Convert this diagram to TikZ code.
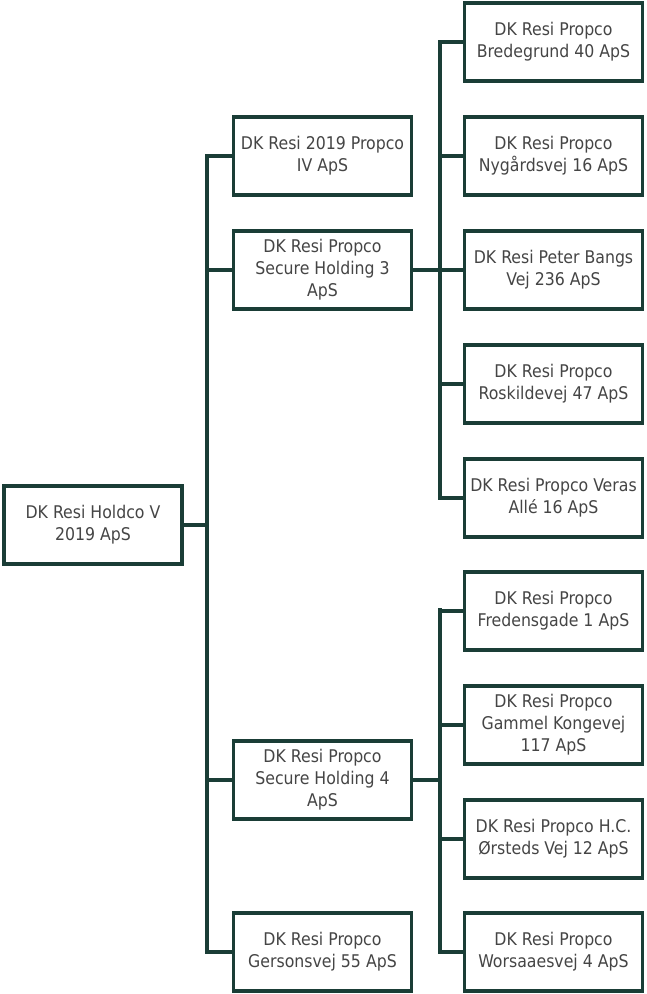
\documentclass[tikz,border=0pt]{standalone}
\usepackage{fontspec}
\setmainfont{DejaVu Sans Condensed}
\definecolor{boxline}{HTML}{1A3D36}
\definecolor{txt}{HTML}{454545}
\begin{document}
\begin{tikzpicture}[x=1pt,y=-1pt,
  org/.style={draw=boxline,line width=3.5pt,fill=white,minimum width=178pt,minimum height=78pt,
    inner sep=0pt,align=center,text=txt,font=\fontsize{17.5}{22}\selectfont,anchor=center},
  link/.style={draw=boxline,line width=3.2pt,line cap=rect}]
\useasboundingbox (0,0) rectangle (646,994);
% coordinates for trunks
\coordinate (t1) at (207,156);
\coordinate (t2) at (207,952);
\coordinate (s1a) at (440,42);
\coordinate (s1b) at (440,498);
\coordinate (s2a) at (440,610);
\coordinate (s2b) at (440,952);
\draw[link] (t1) -- (t2);
\draw[link] (s1a) -- (s1b);
\draw[link] (s2a) -- (s2b);
% nodes
\node[org] (root) at (93,525) {DK Resi Holdco V\\2019 ApS};
\node[org] (a) at (322.5,156) {DK Resi 2019 Propco\\IV ApS};
\node[org] (b) at (322.5,270) {DK Resi Propco\\Secure Holding 3\\ApS};
\node[org] (c) at (322.5,780) {DK Resi Propco\\Secure Holding 4\\ApS};
\node[org] (d) at (322.5,952) {DK Resi Propco\\Gersonsvej 55 ApS};
\node[org] (n1) at (553.5,42) {DK Resi Propco\\Bredegrund 40 ApS};
\node[org] (n2) at (553.5,156) {DK Resi Propco\\Nygårdsvej 16 ApS};
\node[org] (n3) at (553.5,270) {DK Resi Peter Bangs\\Vej 236 ApS};
\node[org] (n4) at (553.5,384) {DK Resi Propco\\Roskildevej 47 ApS};
\node[org] (n5) at (553.5,498) {DK Resi Propco Veras\\Allé 16 ApS};
\node[org] (m1) at (553.5,611) {DK Resi Propco\\Fredensgade 1 ApS};
\node[org] (m2) at (553.5,725) {DK Resi Propco\\Gammel Kongevej\\117 ApS};
\node[org] (m3) at (553.5,839) {DK Resi Propco H.C.\\Ørsteds Vej 12 ApS};
\node[org] (m4) at (553.5,952) {DK Resi Propco\\Worsaaesvej 4 ApS};
% connectors
\draw[link] (root.east) -- (root.east -| t1);
\foreach \n in {a,b,c,d} \draw[link] (\n.west) -- (\n.west -| t1);
\draw[link] (b.east) -- (b.east -| s1a);
\draw[link] (c.east) -- (c.east -| s2a);
\foreach \n in {n1,n2,n3,n4,n5} \draw[link] (\n.west) -- (\n.west -| s1a);
\foreach \n in {m1,m2,m3,m4} \draw[link] (\n.west) -- (\n.west -| s2a);
\end{tikzpicture}
\end{document}
